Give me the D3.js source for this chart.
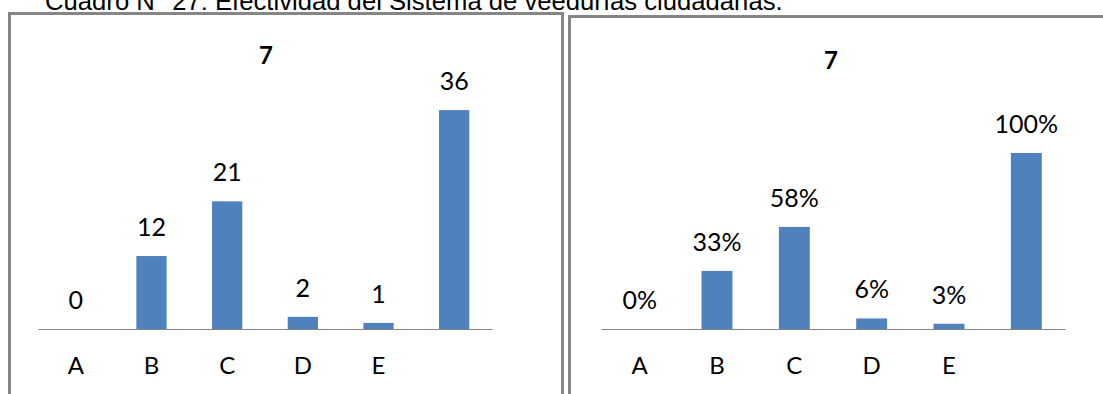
<!DOCTYPE html>
<html>
<head>
<meta charset="utf-8">
<script src="https://cdn.jsdelivr.net/npm/d3@7"></script>
<style>
  html, body { margin: 0; padding: 0; background: #fff; }
  svg { display: block; }
</style>
</head>
<body>
<svg id="chart" width="1103" height="394"></svg>
<script>
// Caption of the table
const caption = "Cuadro N° 27: Efectividad del Sistema de veedurías ciudadanas.";

// Categories (the last column carries no label)
const categories = ["A", "B", "C", "D", "E", "T"];
const tickLabels = ["A", "B", "C", "D", "E", ""];

// Chart titles
const titleCounts = "7";
const titlePercent = "7";

// Series: answers counted, and as a share of the total
const counts = [0, 12, 21, 2, 1, 36];
const percents = [0, 33, 58, 6, 3, 100];

const svg = d3.select("#chart");
const barColor = "#4F81BD";
const frameColor = "#868686";
const labelFont = "Lato, 'Open Sans', sans-serif";

// Caption, partly cut off at the top edge
const cap = svg.append("text")
  .attr("x", 45).attr("y", 10)
  .attr("font-family", "'Liberation Sans', Arial, sans-serif")
  .attr("font-size", 21)
  .attr("fill", "#000")
  .text(caption);
const capLen = cap.node().getComputedTextLength();
cap.attr("font-size", 21 * 738 / capLen);

// Panel frames
svg.append("rect").attr("x", 9.5).attr("y", 13.5).attr("width", 553).attr("height", 400)
  .attr("fill", "none").attr("stroke", frameColor).attr("stroke-width", 3);
svg.append("rect").attr("x", 569.5).attr("y", 16.5).attr("width", 560).attr("height", 400)
  .attr("fill", "none").attr("stroke", frameColor).attr("stroke-width", 3);

function drawBars(cfg) {
  const g = svg.append("g");
  const x = d3.scaleBand()
    .domain(categories)
    .range([cfg.x0, cfg.x1])
    .paddingInner(0.6)
    .paddingOuter(0.3);
  const y = d3.scaleLinear()
    .domain([0, cfg.max])
    .range([cfg.base, cfg.top]);

  g.selectAll("rect.bar")
    .data(cfg.values)
    .join("rect")
    .attr("class", "bar")
    .attr("x", (d, i) => x(categories[i]))
    .attr("width", x.bandwidth())
    .attr("y", d => y(d))
    .attr("height", d => y(0) - y(d))
    .attr("fill", barColor);

  // Category axis
  const axis = d3.axisBottom(x)
    .tickSize(0)
    .tickPadding(28)
    .tickFormat((d, i) => tickLabels[i]);
  const ax = g.append("g")
    .attr("transform", `translate(0,${cfg.base})`)
    .call(axis);
  ax.select(".domain").attr("stroke", frameColor).attr("stroke-width", 1.2);
  ax.selectAll("text")
    .attr("font-family", labelFont)
    .attr("font-size", 24)
    .attr("fill", "#000")
    .attr("dy", null)
    .attr("y", 45);

  // Value labels
  g.selectAll("text.val")
    .data(cfg.values)
    .join("text")
    .attr("class", "val")
    .attr("x", (d, i) => x(categories[i]) + x.bandwidth() / 2)
    .attr("y", d => y(d) - 20)
    .attr("text-anchor", "middle")
    .attr("font-family", labelFont)
    .attr("font-size", 25)
    .attr("fill", "#000")
    .text(d => d + cfg.suffix);

  // Title
  g.append("text")
    .attr("x", cfg.titleX).attr("y", cfg.titleY)
    .attr("text-anchor", "middle")
    .attr("font-family", labelFont)
    .attr("font-weight", "bold")
    .attr("font-size", 24)
    .attr("fill", "#000")
    .text(cfg.title);
}

drawBars({
  values: counts, suffix: "", max: 40,
  x0: 38, x1: 492, base: 329, top: 329 - 243.2,
  title: titleCounts, titleX: 266, titleY: 64
});

drawBars({
  values: percents, suffix: "%", max: 100,
  x0: 601, x1: 1065, base: 329, top: 153,
  title: titlePercent, titleX: 831, titleY: 69
});
</script>
</body>
</html>
